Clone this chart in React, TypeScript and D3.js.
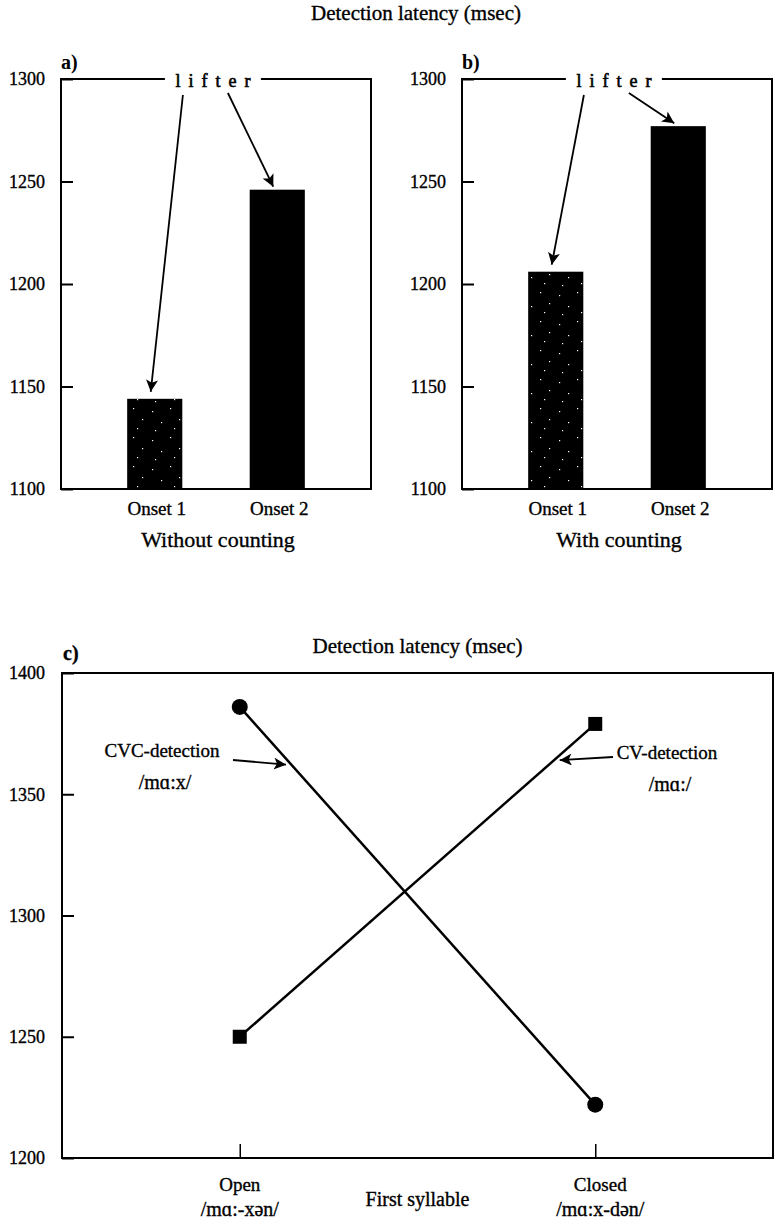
import React, { useRef, useEffect } from "react";
import * as d3 from "d3";

const onsets = ["Onset 1", "Onset 2"];
const withoutCounting = [1144, 1246];
const withCounting = [1206, 1277];
const barTicks = [1100, 1150, 1200, 1250, 1300];

const syllables = ["Open", "Closed"];
const syllableIPA = ["/mɑ:-xən/", "/mɑ:x-dən/"];
const cvcDetection = [1386, 1222];
const cvDetection = [1250, 1379];
const lineTicks = [1200, 1250, 1300, 1350, 1400];

const FONT = "'Liberation Serif', 'DejaVu Serif', serif";

const App = () => {
  const ref = useRef<SVGSVGElement>(null);

  useEffect(() => {
    document.body.style.margin = "0";
    const svg = d3.select(ref.current);
    svg.selectAll("*").remove();

    const width = 776;
    const height = 1229;
    svg.attr("width", width).attr("height", height).style("background", "#fff");

    const defs = svg.append("defs");
    defs.append("marker")
      .attr("id", "arrow")
      .attr("viewBox", "0 0 10 10")
      .attr("refX", 10)
      .attr("refY", 5)
      .attr("markerUnits", "userSpaceOnUse")
      .attr("markerWidth", 16)
      .attr("markerHeight", 12)
      .attr("orient", "auto")
      .append("path")
      .attr("d", "M0,0 L10,5 L0,10 L2.5,5 Z")
      .attr("fill", "#000");

    // sparse white specks on black for the Onset 1 bars
    const pat = defs.append("pattern")
      .attr("id", "speckle")
      .attr("patternUnits", "userSpaceOnUse")
      .attr("width", 37)
      .attr("height", 29);
    pat.append("rect").attr("width", 37).attr("height", 29).attr("fill", "#000");
    [[4, 5], [22, 2], [13, 16], [31, 13], [7, 24], [26, 22]].forEach(([x, y]) => {
      pat.append("rect").attr("x", x).attr("y", y).attr("width", 1.2).attr("height", 1.2).attr("fill", "#fff");
    });

    const heavy = (sel: any) => sel.attr("stroke", "#000").attr("stroke-width", 0.35);

    heavy(svg.append("text")
      .attr("x", 416)
      .attr("y", 20)
      .attr("text-anchor", "middle")
      .attr("font-family", FONT)
      .attr("font-size", 21)
      .text("Detection latency (msec)"));

    const drawArrow = (x1: number, y1: number, x2: number, y2: number) => {
      svg.append("line")
        .attr("x1", x1).attr("y1", y1)
        .attr("x2", x2).attr("y2", y2)
        .attr("stroke", "#000")
        .attr("stroke-width", 1.8)
        .attr("marker-end", "url(#arrow)");
    };

    // bar panels a) and b)
    const barPanel = (left: number, right: number, values: number[], tag: string, caption: string) => {
      const top = 79;
      const bottom = 489;
      const x = d3.scaleBand().domain(onsets).range([left, right]).paddingInner(0.55).paddingOuter(0.54);
      const y = d3.scaleLinear().domain([1100, 1300]).range([bottom, top]);

      const g = svg.append("g");

      g.selectAll(".bar")
        .data(values)
        .enter()
        .append("rect")
        .attr("x", (d, i) => x(onsets[i]) as number)
        .attr("y", (d) => y(d))
        .attr("width", x.bandwidth())
        .attr("height", (d) => bottom - y(d))
        .attr("fill", (d, i) => (i === 0 ? "url(#speckle)" : "#000"));

      g.append("rect")
        .attr("x", left).attr("y", top)
        .attr("width", right - left).attr("height", bottom - top)
        .attr("fill", "none")
        .attr("stroke", "#000")
        .attr("stroke-width", 2);

      const axis = d3.axisLeft(y).tickValues(barTicks).tickSize(-12).tickPadding(16).tickFormat(d3.format("d"));
      const ag = g.append("g").attr("transform", `translate(${left},0)`).call(axis);
      ag.select(".domain").remove();
      ag.selectAll("line").attr("stroke-width", 2);
      heavy(ag.selectAll("text").attr("font-family", FONT).attr("font-size", 18).attr("fill", "#000"));

      heavy(g.selectAll(".onset")
        .data(onsets)
        .enter()
        .append("text")
        .attr("x", (d) => (x(d) as number) + x.bandwidth() / 2 + 2)
        .attr("y", 515)
        .attr("text-anchor", "middle")
        .attr("font-family", FONT)
        .attr("font-size", 19)
        .text((d) => d));

      heavy(g.append("text")
        .attr("x", (left + right) / 2 + 2)
        .attr("y", 547)
        .attr("text-anchor", "middle")
        .attr("font-family", FONT)
        .attr("font-size", 22)
        .text(caption));

      g.append("text")
        .attr("x", left)
        .attr("y", 69)
        .attr("font-family", FONT)
        .attr("font-size", 20)
        .attr("font-weight", "bold")
        .text(tag);

      // "lifter" annotation sitting on the top border
      const lx = left + (right - left) * 0.49;
      g.append("rect")
        .attr("x", lx - 48).attr("y", top - 6)
        .attr("width", 96).attr("height", 14)
        .attr("fill", "#fff");
      heavy(g.append("text")
        .attr("x", lx + 4)
        .attr("y", 87)
        .attr("text-anchor", "middle")
        .attr("font-family", FONT)
        .attr("font-size", 18)
        .attr("letter-spacing", 8)
        .text("lifter")).attr("stroke-width", 0.6);

      const tipX = (i: number) => (x(onsets[i]) as number) + x.bandwidth() / 2 - 4;
      drawArrow(lx - 30, 95, tipX(0), y(values[0]) - 7);
      drawArrow(lx + 15, 93, tipX(1), y(values[1]) - 3);
    };

    barPanel(61, 371, withoutCounting, "a)", "Without counting");
    barPanel(462, 772, withCounting, "b)", "With counting");

    // line panel c)
    const cl = 62, cr = 773, ct = 673, cb = 1158;
    const xc = d3.scalePoint().domain(syllables).range([cl, cr]).padding(0.5);
    const yc = d3.scaleLinear().domain([1200, 1400]).range([cb, ct]);

    const gc = svg.append("g");
    gc.append("rect")
      .attr("x", cl).attr("y", ct)
      .attr("width", cr - cl).attr("height", cb - ct)
      .attr("fill", "none")
      .attr("stroke", "#000")
      .attr("stroke-width", 2);

    const ya = gc.append("g").attr("transform", `translate(${cl},0)`)
      .call(d3.axisLeft(yc).tickValues(lineTicks).tickSize(-12).tickPadding(17).tickFormat(d3.format("d")));
    ya.select(".domain").remove();
    ya.selectAll("line").attr("stroke-width", 2);
    heavy(ya.selectAll("text").attr("font-family", FONT).attr("font-size", 18).attr("fill", "#000"));

    const xa = gc.append("g").attr("transform", `translate(0,${cb})`)
      .call(d3.axisBottom(xc).tickSize(-14).tickFormat(() => ""));
    xa.select(".domain").remove();
    xa.selectAll("line").attr("stroke-width", 1.5);

    const line = d3.line<number>().x((d, i) => xc(syllables[i]) as number).y((d) => yc(d));

    gc.append("path").datum(cvcDetection).attr("d", line).attr("fill", "none").attr("stroke", "#000").attr("stroke-width", 2.5);
    gc.append("path").datum(cvDetection).attr("d", line).attr("fill", "none").attr("stroke", "#000").attr("stroke-width", 2.5);

    gc.selectAll(".dot")
      .data(cvcDetection)
      .enter()
      .append("circle")
      .attr("cx", (d, i) => xc(syllables[i]) as number)
      .attr("cy", (d) => yc(d))
      .attr("r", 8)
      .attr("fill", "#000");

    gc.selectAll(".sq")
      .data(cvDetection)
      .enter()
      .append("rect")
      .attr("x", (d, i) => (xc(syllables[i]) as number) - 7)
      .attr("y", (d) => yc(d) - 7)
      .attr("width", 14)
      .attr("height", 14)
      .attr("fill", "#000");

    const txt = (x: number, y: number, s: string, size: number, anchor = "middle") =>
      heavy(gc.append("text")
        .attr("x", x).attr("y", y)
        .attr("text-anchor", anchor)
        .attr("font-family", FONT)
        .attr("font-size", size)
        .text(s));

    txt(cl + 1, 660, "c)", 20, "start").attr("font-weight", "bold");
    txt((cl + cr) / 2, 653, "Detection latency (msec)", 21);

    txt(162, 757, "CVC-detection", 19);
    txt(165, 789, "/mɑ:x/", 20);
    txt(667, 759, "CV-detection", 19);
    txt(670, 791, "/mɑ:/", 20);

    // arrows pointing onto the lines
    const along = (vals: number[], t: number) => {
      const x0 = xc(syllables[0]) as number, x1 = xc(syllables[1]) as number;
      return [x0 + (x1 - x0) * t, yc(vals[0]) + (yc(vals[1]) - yc(vals[0])) * t];
    };
    const p1 = along(cvcDetection, 0.13);
    drawArrow(233, 760, p1[0], p1[1] + 6);
    const p2 = along(cvDetection, 0.9);
    drawArrow(613, 757, p2[0], p2[1] + 5);

    syllables.forEach((s, i) => {
      const cx = (xc(s) as number) + (i === 1 ? 5 : 0);
      txt(cx, 1191, s, 19);
      txt(cx, 1216, syllableIPA[i], 20);
    });
    txt((cl + cr) / 2, 1206, "First syllable", 20);
  }, []);

  return <svg ref={ref}></svg>;
};

export default App;
